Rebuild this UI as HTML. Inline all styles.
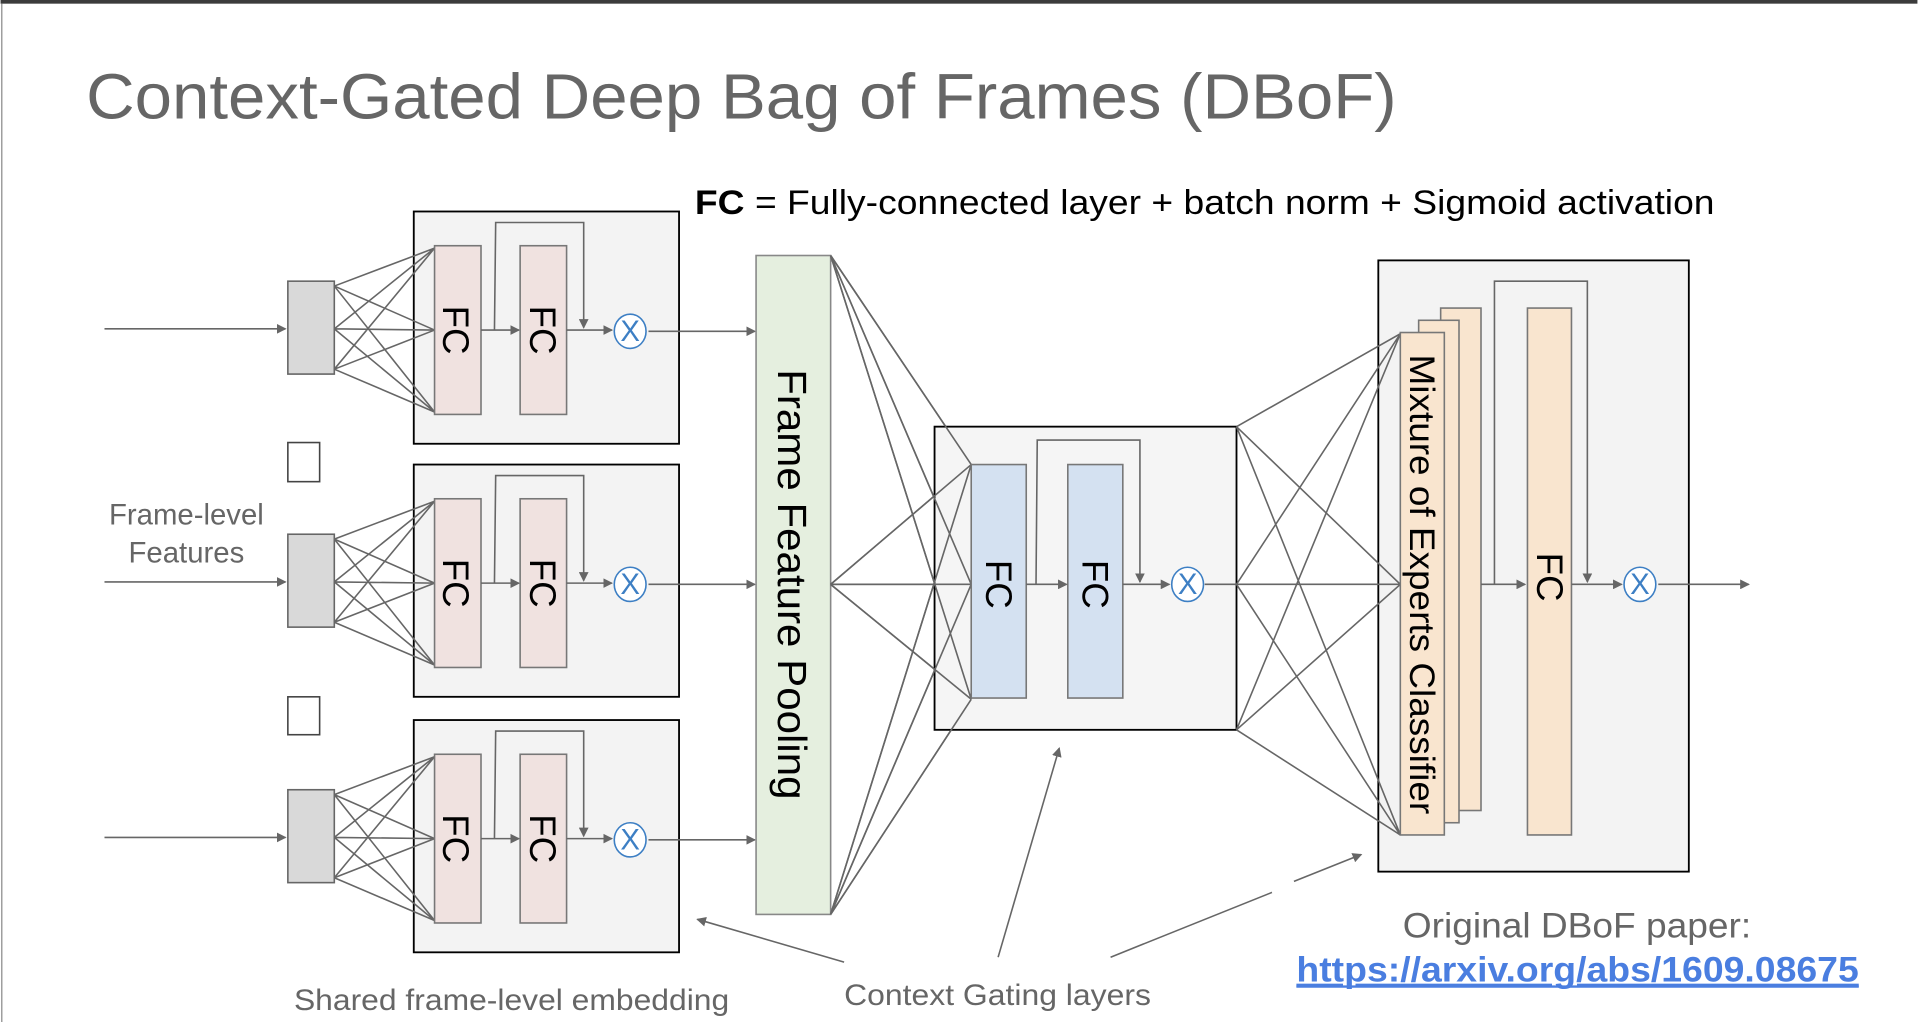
<!DOCTYPE html>
<html><head><style>html,body{margin:0;padding:0;background:#fff;overflow:hidden}</style></head>
<body>
<svg width="1918" height="1022" viewBox="0 0 1568 836" xmlns="http://www.w3.org/2000/svg" font-family="Liberation Sans, sans-serif">
<defs>
<marker id="a" markerWidth="8" markerHeight="8" refX="7" refY="4" orient="auto" markerUnits="userSpaceOnUse"><path d="M0,0 L8,4 L0,8 z" fill="#666"/></marker>
</defs>
<rect x="0" y="0" width="1568" height="3" fill="#3c3c3c"/>
<line x1="1" y1="3" x2="1" y2="836" stroke="#888" stroke-width="1"/>
<text x="70" y="97" font-size="52" fill="#666" textLength="1072" lengthAdjust="spacingAndGlyphs">Context-Gated Deep Bag of Frames (DBoF)</text>
<text x="568" y="175" font-size="28" fill="#000" textLength="834" lengthAdjust="spacingAndGlyphs"><tspan font-weight="bold">FC</tspan> = Fully-connected layer + batch norm + Sigmoid activation</text>

<g stroke="#666" stroke-width="1.3" fill="none">
<!-- left rows -->
<g id="row">
<rect x="338" y="173" width="217" height="190" fill="#f3f3f3" stroke="#000" stroke-width="1.5"/>
<line x1="85" y1="269" x2="233" y2="269" marker-end="url(#a)"/>
<rect x="235" y="230" width="38" height="76" fill="#d9d9d9" stroke="#666"/>
<path d="M273,234 L355,203 M273,234 L355,270 M273,234 L355,337 M273,269 L355,203 M273,269 L355,270 M273,269 L355,337 M273,302 L355,203 M273,302 L355,270 M273,302 L355,337"/>
<rect x="355" y="201" width="38" height="138" fill="#f0e2e0" stroke="#777"/>
<rect x="425" y="201" width="38" height="138" fill="#f0e2e0" stroke="#777"/>
<line x1="393" y1="270" x2="424" y2="270" marker-end="url(#a)"/>
<path d="M404,270 L405,182 L477,182 L477,268" marker-end="url(#a)"/>
<line x1="463" y1="270" x2="500" y2="270" marker-end="url(#a)"/>
<line x1="530" y1="271" x2="617" y2="271" marker-end="url(#a)"/>
<ellipse cx="515" cy="271" rx="13" ry="14" stroke="#3d7fc4" fill="#fff"/>
</g>
<use href="#row" y="207"/>
<use href="#row" y="416"/>
<rect x="235" y="362" width="26" height="32" fill="#fff" stroke="#444"/>
<rect x="235" y="570" width="26" height="31" fill="#fff" stroke="#444"/>

<!-- pooling -->
<rect x="618" y="209" width="61" height="539" fill="#e5efdf" stroke="#888"/>
<path d="M679,209 L794,380 M679,209 L794,478 M679,209 L794,572 M679,478 L794,380 M679,478 L794,478 M679,478 L794,572 M679,748 L794,380 M679,748 L794,478 M679,748 L794,572"/>
<!-- middle -->
<rect x="764" y="349" width="247" height="248" fill="#f3f3f3" stroke="#000" stroke-width="1.5" fill-opacity="0.85"/>
<path d="M679,209 L794,380 M679,209 L794,478 M679,209 L794,572 M679,478 L794,380 M679,478 L794,478 M679,478 L794,572 M679,748 L794,380 M679,748 L794,478 M679,748 L794,572"/>
<rect x="794" y="380" width="45" height="191" fill="#d4e1f1" stroke="#777"/>
<rect x="873" y="380" width="45" height="191" fill="#d4e1f1" stroke="#777"/>
<line x1="839" y1="478" x2="872" y2="478" marker-end="url(#a)"/>
<path d="M847,478 L848,360 L932,360 L932,476" marker-end="url(#a)"/>
<line x1="918" y1="478" x2="956" y2="478" marker-end="url(#a)"/>
<line x1="985" y1="478" x2="1011" y2="478"/>
<ellipse cx="971" cy="478" rx="13" ry="14" stroke="#3d7fc4" fill="#fff"/>
<!-- right -->
<rect x="1127" y="213" width="254" height="500" fill="#f3f3f3" stroke="#000" stroke-width="1.5"/>
<path d="M1011,349 L1145,273 M1011,349 L1145,478 M1011,349 L1145,683 M1011,478 L1145,273 M1011,478 L1145,478 M1011,478 L1145,683 M1011,597 L1145,273 M1011,597 L1145,478 M1011,597 L1145,683"/>
<rect x="1178" y="252" width="33" height="411" fill="#f9e5cf" stroke="#777"/>
<rect x="1160" y="262" width="33" height="411" fill="#f9e5cf" stroke="#777"/>
<rect x="1145" y="272" width="36" height="411" fill="#f9e5cf" stroke="#777"/>
<rect x="1249" y="252" width="36" height="431" fill="#f9e5cf" stroke="#777"/>
<line x1="1211" y1="478" x2="1247" y2="478" marker-end="url(#a)"/>
<path d="M1222,478 L1222,230 L1298,230 L1298,476" marker-end="url(#a)"/>
<line x1="1285" y1="478" x2="1326" y2="478" marker-end="url(#a)"/>
<line x1="1356" y1="478" x2="1430" y2="478" marker-end="url(#a)"/>
<ellipse cx="1341" cy="478" rx="13" ry="14" stroke="#3d7fc4" fill="#fff"/>
<!-- callouts -->
<line x1="690" y1="787" x2="570" y2="752" marker-end="url(#a)"/>
<line x1="816" y1="783" x2="866" y2="612" marker-end="url(#a)"/>
<line x1="908" y1="783" x2="1040" y2="730"/>
<line x1="1058" y1="721" x2="1113" y2="699" marker-end="url(#a)"/>
</g>

<g font-size="30" fill="#000" text-anchor="middle">
<g id="fct"><text transform="translate(372,270) rotate(90)" dy="10">FC</text><text transform="translate(443,270) rotate(90)" dy="10">FC</text></g>
<use href="#fct" y="207"/><use href="#fct" y="416"/>
<text transform="translate(816,478) rotate(90)" dy="10">FC</text>
<text transform="translate(895,478) rotate(90)" dy="10">FC</text>
<text transform="translate(1267,472) rotate(90)" dy="10">FC</text>
<text transform="translate(648,478) rotate(90)" dy="12" font-size="33" textLength="352" lengthAdjust="spacingAndGlyphs">Frame Feature Pooling</text>
<text transform="translate(1163,478) rotate(90)" dy="10" font-size="29" textLength="376" lengthAdjust="spacingAndGlyphs">Mixture of Experts Classifier</text>
</g>
<g font-size="24" fill="#3d7fc4" text-anchor="middle">
<text x="515" y="279">X</text><text x="515" y="486">X</text><text x="515" y="695">X</text>
<text x="971" y="486">X</text><text x="1341" y="486">X</text>
</g>
<g fill="#666" font-size="24">
<text x="152" y="429" text-anchor="middle">Frame-level</text>
<text x="152" y="460" text-anchor="middle">Features</text>
<text x="240" y="826" textLength="356" lengthAdjust="spacingAndGlyphs">Shared frame-level embedding</text>
<text x="690" y="822" textLength="251" lengthAdjust="spacingAndGlyphs">Context Gating layers</text>
<text x="1147" y="767" font-size="29" textLength="285" lengthAdjust="spacingAndGlyphs">Original DBoF paper:</text>
</g>
<text x="1060" y="803" font-size="29" font-weight="bold" fill="#4a7ee0" text-decoration="underline" textLength="460" lengthAdjust="spacingAndGlyphs">https://arxiv.org/abs/1609.08675</text>
<line x1="1060" y1="807" x2="1520" y2="807" stroke="#4a7ee0" stroke-width="2"/>
</svg>
</body></html>
